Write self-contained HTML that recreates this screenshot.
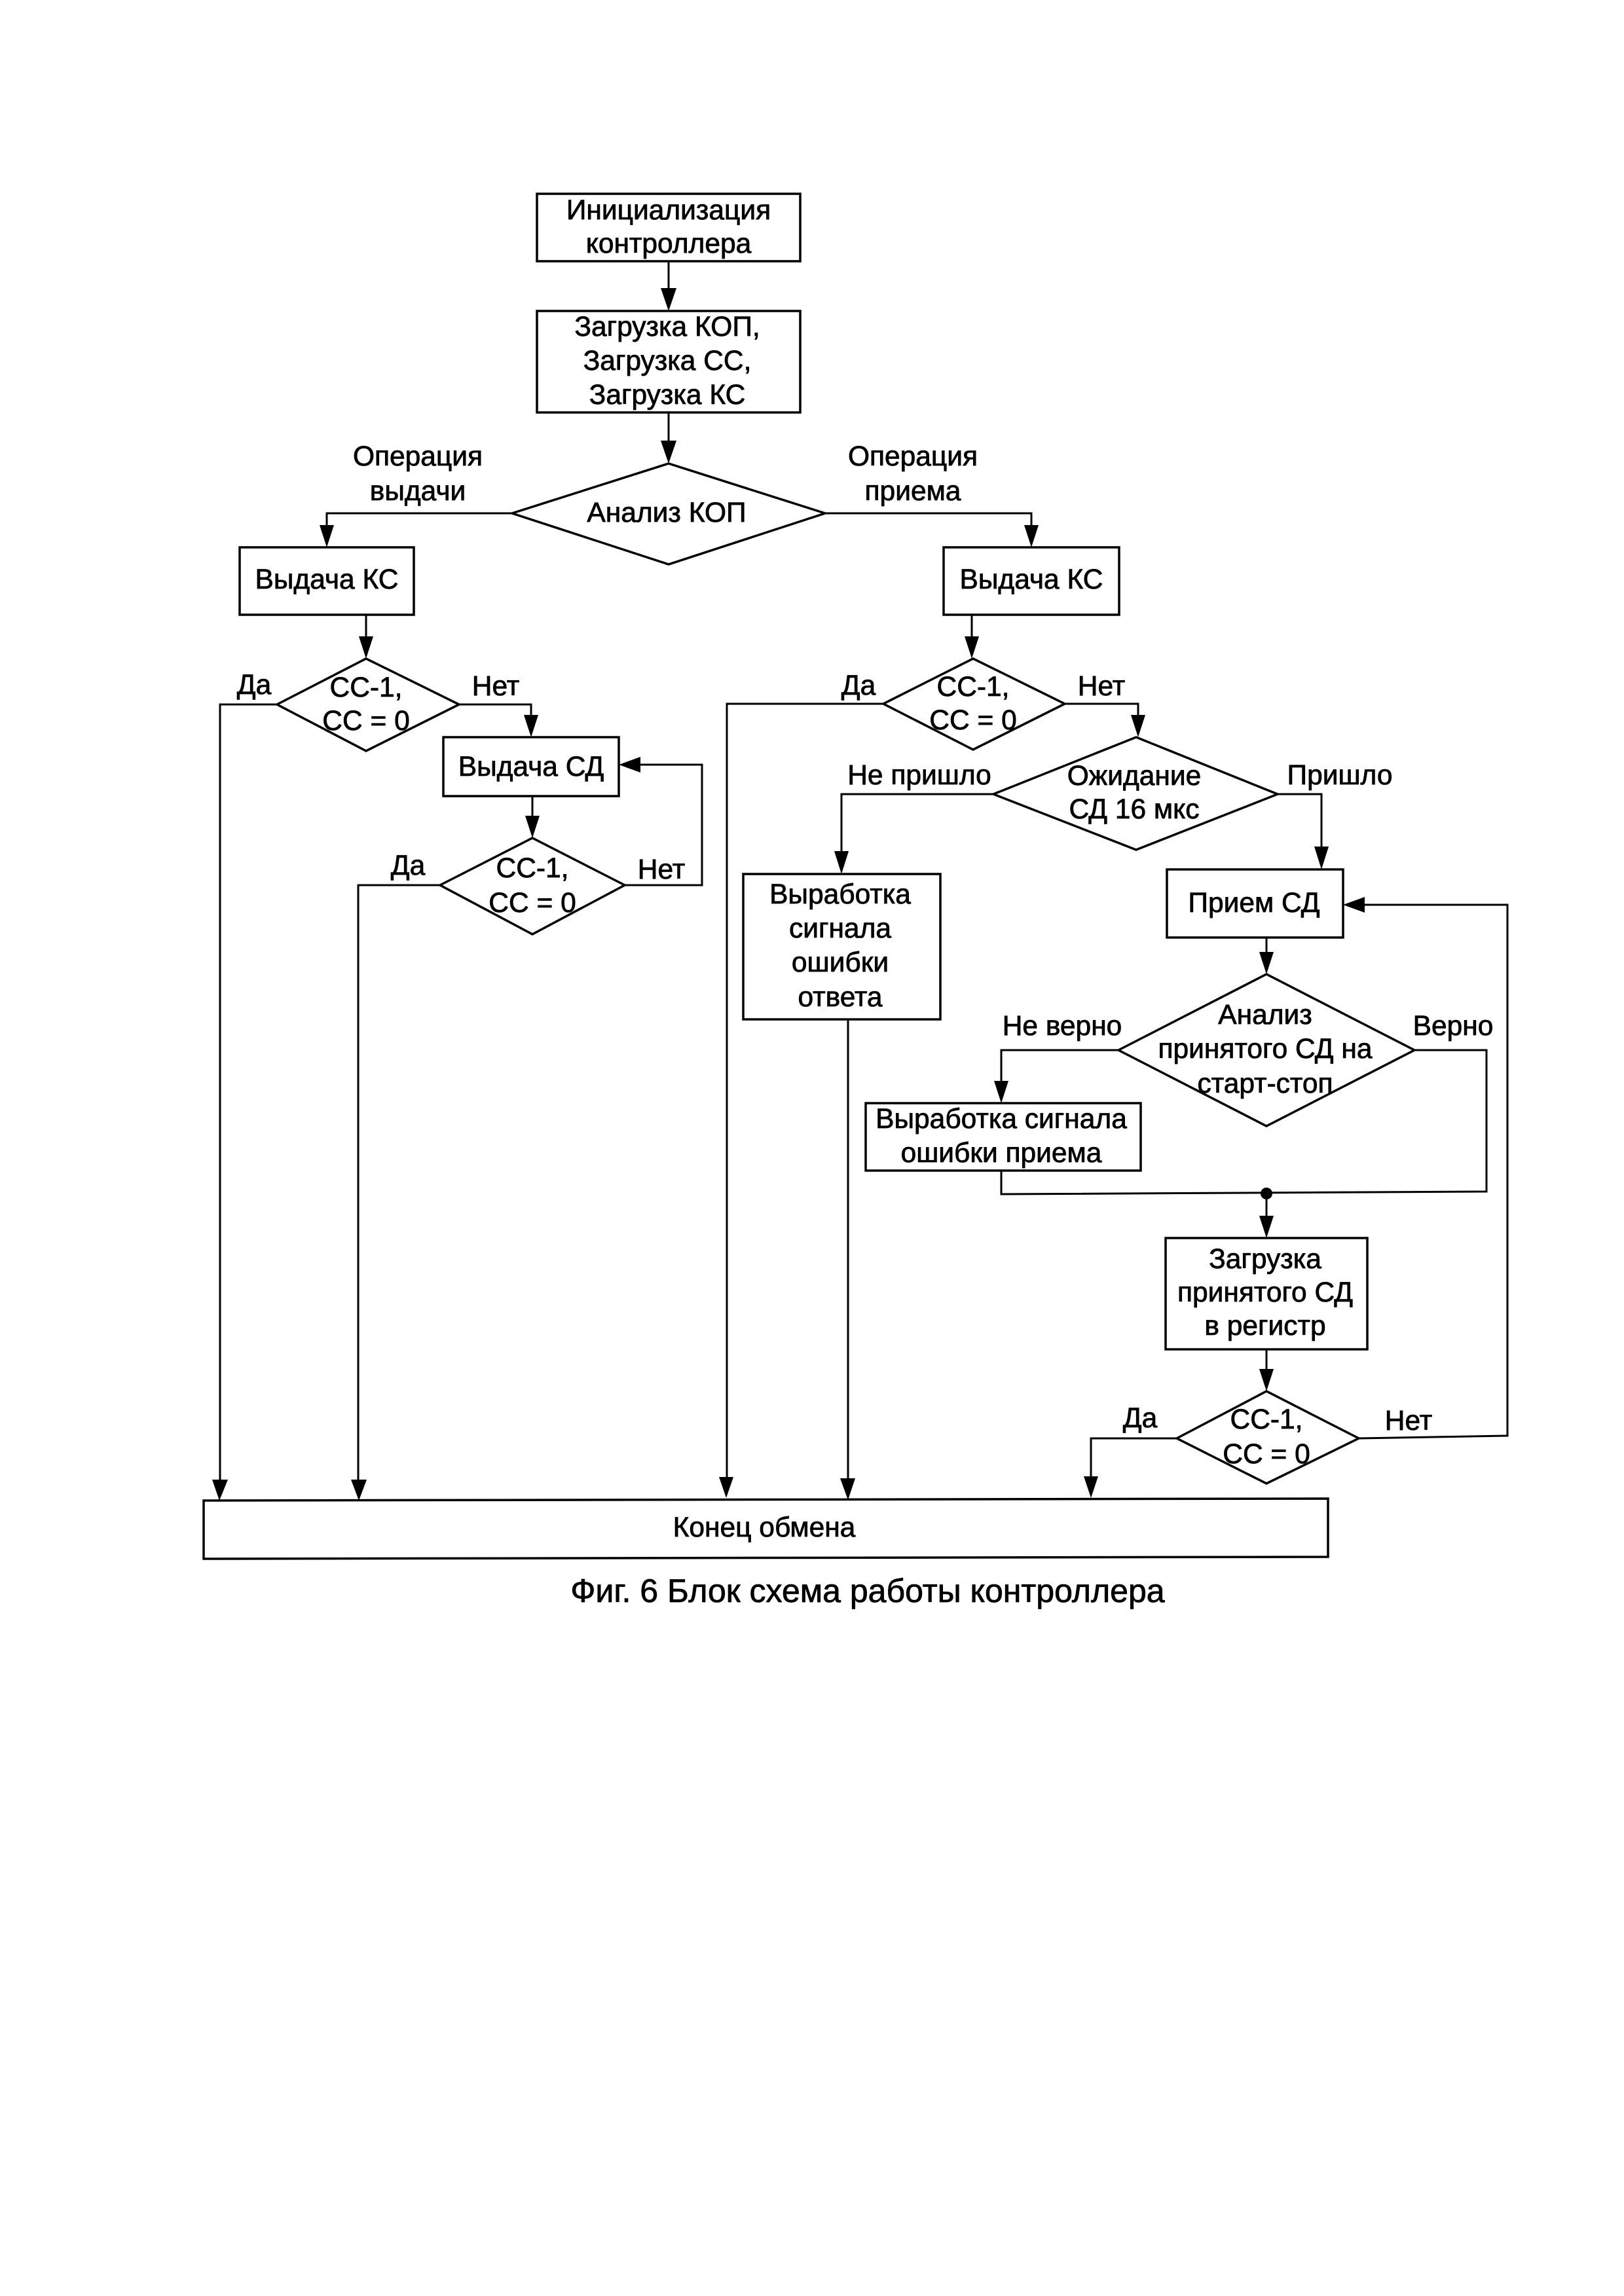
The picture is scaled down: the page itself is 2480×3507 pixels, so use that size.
<!DOCTYPE html>
<html><head><meta charset="utf-8"><style>
html,body{margin:0;padding:0;background:#fff}
svg{display:block}
text{font-family:"Liberation Sans",sans-serif;font-size:42.5px;text-anchor:middle;fill:#000;stroke:#000;stroke-width:.8px}
.l{fill:none;stroke:#000;stroke-width:3;stroke-linejoin:miter}
.b{fill:none;stroke:#000;stroke-width:3.5;stroke-linejoin:miter}
</style></head><body>
<svg xmlns="http://www.w3.org/2000/svg" width="2480" height="3507" viewBox="0 0 2480 3507">
<rect width="2480" height="3507" fill="#fff"/>
<!-- boxes -->
<rect class="b" x="820" y="296" width="402" height="103"/>
<rect class="b" x="820" y="475" width="402" height="155"/>
<rect class="b" x="366" y="836" width="266" height="103"/>
<rect class="b" x="1441" y="836" width="268" height="103"/>
<rect class="b" x="677" y="1126" width="268" height="90"/>
<rect class="b" x="1135" y="1335" width="301" height="222"/>
<rect class="b" x="1782" y="1328" width="269" height="104"/>
<rect class="b" x="1322" y="1685" width="420" height="103"/>
<rect class="b" x="1780" y="1891" width="308" height="170"/>
<polygon class="b" points="311,2292 2028,2289 2028,2378 311,2381"/>
<!-- diamonds -->
<polygon class="b" points="782,784 1021,708 1260,784 1021,862"/>
<polygon class="b" points="423,1076 559,1006 701,1076 559,1147"/>
<polygon class="b" points="672,1352 813,1280 954,1352 813,1427"/>
<polygon class="b" points="1349,1075 1486,1006 1626,1075 1486,1145"/>
<polygon class="b" points="1517,1213 1735,1126 1951,1213 1735,1298"/>
<polygon class="b" points="1708,1604 1934,1488 2160,1604 1934,1720"/>
<polygon class="b" points="1797,2197 1934,2125 2075,2197 1934,2266"/>
<!-- connectors -->
<path class="l" d="M1021 399V450M1021 630V680M782 784H499V810M1260 784H1575V810M559 939V975M423 1076H336V2260M701 1076H811V1100M813 1216V1250M954 1352H1072V1168H975M672 1352H547V2260M1626 1075H1738V1100M1349 1075H1110V2260M1484 939V975M1517 1213H1285V1305M1951 1213H2018V1298M1295 1557V2260M1934 1432V1455M1708 1604H1529V1655M2160 1604H2270V1820L1529 1824V1788M1934 1824V1860M1934 2061V2095M1797 2197H1666V2258M2075 2197L2302 2193V1382H2080"/>
<!-- arrowheads -->
<g fill="#000">
<polygon points="1009,440 1033,440 1021,475"/>
<polygon points="1009,673 1033,673 1021,708"/>
<polygon points="488,802 510,802 499,836"/>
<polygon points="1564,802 1586,802 1575,836"/>
<polygon points="548,972 570,972 559,1006"/>
<polygon points="800,1092 822,1092 811,1126"/>
<polygon points="802,1246 824,1246 813,1280"/>
<polygon points="1473,972 1495,972 1484,1006"/>
<polygon points="1727,1092 1749,1092 1738,1126"/>
<polygon points="1274,1300 1296,1300 1285,1335"/>
<polygon points="2007,1293 2029,1293 2018,1328"/>
<polygon points="1923,1454 1945,1454 1934,1488"/>
<polygon points="1518,1651 1540,1651 1529,1685"/>
<polygon points="1923,1857 1945,1857 1934,1891"/>
<polygon points="1923,2091 1945,2091 1934,2125"/>
<polygon points="324,2260 348,2260 335,2292"/>
<polygon points="536,2260 560,2260 548,2292"/>
<polygon points="1098,2256 1120,2256 1109,2288"/>
<polygon points="1283,2258 1306,2258 1295,2291"/>
<polygon points="1655,2255 1677,2255 1666,2288"/>
<polygon points="945,1168 978,1156 978,1180"/>
<polygon points="2051,1382 2084,1370 2084,1394"/>
<circle cx="1934" cy="1823" r="9"/>
</g>
<!-- labels -->
<text x="1021" y="335">Инициализация</text>
<text x="1021" y="386">контроллера</text>
<text x="1019" y="513">Загрузка КОП,</text>
<text x="1019" y="565">Загрузка СС,</text>
<text x="1019" y="617">Загрузка КС</text>
<text x="638" y="711">Операция</text>
<text x="638" y="764">выдачи</text>
<text x="1394" y="711">Операция</text>
<text x="1394" y="764">приема</text>
<text x="1018" y="797">Анализ КОП</text>
<text x="499" y="899">Выдача КС</text>
<text x="1575" y="899">Выдача КС</text>
<text x="559" y="1064">СС-1,</text>
<text x="559" y="1115">СС = 0</text>
<text x="388" y="1060">Да</text>
<text x="757" y="1062">Нет</text>
<text x="1486" y="1063">СС-1,</text>
<text x="1486" y="1114">СС = 0</text>
<text x="1311" y="1061">Да</text>
<text x="1682" y="1062">Нет</text>
<text x="811" y="1185">Выдача СД</text>
<text x="813" y="1340">СС-1,</text>
<text x="813" y="1393">СС = 0</text>
<text x="623" y="1336">Да</text>
<text x="1010" y="1342">Нет</text>
<text x="1404" y="1198">Не пришло</text>
<text x="1732" y="1199">Ожидание</text>
<text x="1732" y="1250">СД 16 мкс</text>
<text x="2046" y="1198">Пришло</text>
<text x="1283" y="1380">Выработка</text>
<text x="1283" y="1432">сигнала</text>
<text x="1283" y="1484">ошибки</text>
<text x="1283" y="1537">ответа</text>
<text x="1915" y="1393">Прием СД</text>
<text x="1932" y="1564">Анализ</text>
<text x="1932" y="1616">принятого СД на</text>
<text x="1932" y="1669">старт-стоп</text>
<text x="1622" y="1581">Не верно</text>
<text x="2219" y="1581">Верно</text>
<text x="1529" y="1723">Выработка сигнала</text>
<text x="1529" y="1775">ошибки приема</text>
<text x="1932" y="1937">Загрузка</text>
<text x="1932" y="1988">принятого СД</text>
<text x="1932" y="2039">в регистр</text>
<text x="1934" y="2182">СС-1,</text>
<text x="1934" y="2235">СС = 0</text>
<text x="1741" y="2180">Да</text>
<text x="2151" y="2184">Нет</text>
<text x="1167" y="2347">Конец обмена</text>
<text x="1325" y="2447" style="font-size:50px">Фиг. 6 Блок схема работы контроллера</text>
</svg>
</body></html>
